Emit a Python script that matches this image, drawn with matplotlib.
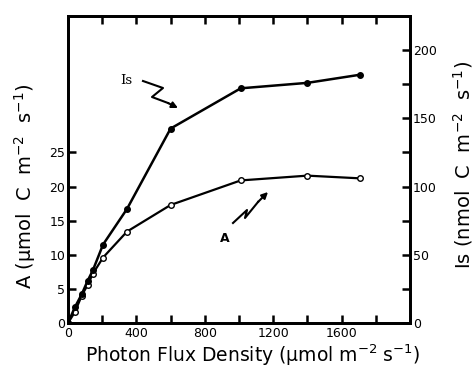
import matplotlib
matplotlib.use("Agg")
import matplotlib.pyplot as plt
import numpy as np

# Data
pfd = [0, 40, 80, 115, 145, 205, 345, 600, 1010, 1400, 1710]
A_vals = [0, 1.6, 4.0, 5.6, 7.2, 9.6, 13.4, 17.3, 20.9, 21.6, 21.2]
Is_vals = [0, 11.5, 21, 31, 38.5, 57.5, 83.6, 142.5, 172, 176, 182]

x_major = [0, 400, 800, 1200, 1600]
x_ticks_all = list(range(0, 2001, 200))
a_ticks = [0, 5, 10, 15, 20, 25]
is_ticks = list(range(0, 201, 25))
is_labels = ["0", "", "50", "", "100", "", "150", "", "200"]

plt.rcParams['font.family'] = ['DejaVu Sans']
W, H = 474, 367
fig = plt.figure(figsize=(W / 100, H / 100), dpi=100)
ax = fig.add_axes([68 / W, 1 - 323 / H, (410 - 68) / W, (323 - 16) / H])
ax2 = ax.twinx()

ax.plot(pfd, A_vals, color='black', lw=1.6, marker='o', ms=4,
        mfc='white', mec='black', mew=1.0, zorder=3)
ax2.plot(pfd, Is_vals, color='black', lw=1.8, marker='o', ms=4,
         mfc='black', mec='black', zorder=3)

ax.set_xlim(0, 2000)
ax.set_ylim(0, 45)
ax2.set_ylim(0, 225)

ax.set_xticks(x_ticks_all)
ax.set_xticklabels([str(v) if v in x_major else "" for v in x_ticks_all])
ax.set_yticks(a_ticks)
ax.set_yticklabels([str(v) for v in a_ticks])
ax2.set_yticks(is_ticks)
ax2.set_yticklabels(is_labels)

ax.tick_params(axis='x', direction='in', length=6, width=1.8, top=True,
               labelsize=9, pad=3)
ax.tick_params(axis='y', direction='in', length=6, width=1.8, labelsize=9, pad=2)
ax2.tick_params(axis='y', direction='in', length=6, width=1.8, labelsize=9, pad=2)

for a in (ax, ax2):
    for s in a.spines.values():
        s.set_linewidth(2.0)

pw, ph = (410 - 68), (323 - 16)
ax.set_xlabel("Photon Flux Density (µmol m$^{-2}$ s$^{-1}$)", fontsize=13.5)
ax.xaxis.set_label_coords((253 - 68) / pw, (323 - 343) / ph)
ax.set_ylabel("A (µmol  C  m$^{-2}$  s$^{-1}$)", fontsize=14)
ax.yaxis.set_label_coords((38 - 68) / pw, (323 - 186) / ph)
ax2.set_ylabel("Is (nmol  C  m$^{-2}$  s$^{-1}$)", fontsize=14)
ax2.yaxis.set_label_coords((451 - 68) / pw, (323 - 165) / ph)

# Annotations with zigzag arrows (pixel positions converted to figure fraction)
def fpt(x, y):
    return (x / W, 1 - y / H)

fig.text(*fpt(120, 80), "Is", fontsize=9.5, family='DejaVu Serif',
         va='center', ha='left')
zz = [fpt(143, 81), fpt(163, 88), fpt(152, 97), fpt(168, 103)]
fig.add_artist(plt.Line2D([p[0] for p in zz], [p[1] for p in zz],
                          transform=fig.transFigure, color='black', lw=1.5))
ax.annotate("", xy=fpt(178, 108), xytext=zz[-1], xycoords='figure fraction',
            textcoords='figure fraction',
            arrowprops=dict(arrowstyle='-|>', color='black', lw=1.5,
                            mutation_scale=9, shrinkA=0, shrinkB=0))

fig.text(*fpt(225, 238), "A", fontsize=9, fontweight='bold', va='center', ha='center')
zz2 = [fpt(233, 223), fpt(247, 210), fpt(245, 218), fpt(258, 202)]
fig.add_artist(plt.Line2D([p[0] for p in zz2], [p[1] for p in zz2],
                          transform=fig.transFigure, color='black', lw=1.5))
ax.annotate("", xy=fpt(268, 192), xytext=zz2[-1], xycoords='figure fraction',
            textcoords='figure fraction',
            arrowprops=dict(arrowstyle='-|>', color='black', lw=1.5,
                            mutation_scale=9, shrinkA=0, shrinkB=0))

fig.savefig("out.png", dpi=100)
